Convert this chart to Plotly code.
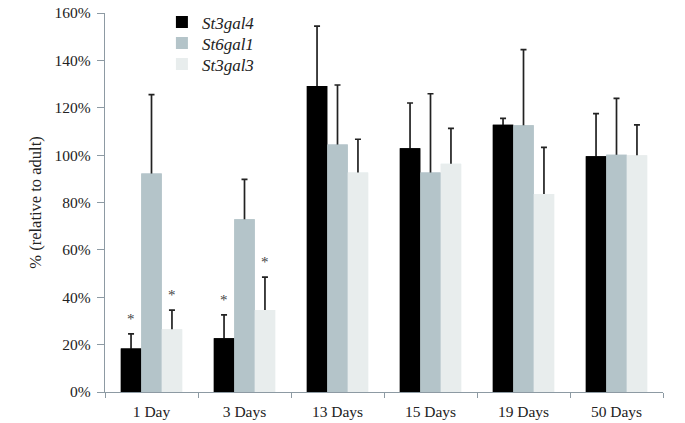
import plotly.graph_objects as go

categories = ["1 Day", "3 Days", "13 Days", "15 Days", "19 Days", "50 Days"]
series_names = ["St3gal4", "St6gal1", "St3gal3"]
st3gal4 = [18.4, 22.7, 129.2, 102.9, 112.8, 99.5]
st6gal1 = [92.2, 72.9, 104.5, 92.7, 112.6, 100.2]
st3gal3 = [26.5, 34.6, 92.7, 96.4, 83.6, 99.9]
st3gal4_err = [6.1, 9.9, 25.3, 19.1, 2.7, 18.0]
st6gal1_err = [33.3, 16.9, 25.1, 33.2, 31.9, 23.8]
st3gal3_err = [8.1, 13.9, 14.0, 14.9, 19.7, 12.9]
tick_vals = [0, 20, 40, 60, 80, 100, 120, 140, 160]
tick_text = ["0%", "20%", "40%", "60%", "80%", "100%", "120%", "140%", "160%"]
# significance markers: (series index, category index)
significant = [(0, 0), (2, 0), (0, 1), (2, 1)]

SERIF = "Liberation Serif, Times New Roman, serif"
colors = ["#000000", "#b4c4c9", "#e8eded"]
values = [st3gal4, st6gal1, st3gal3]
errors = [st3gal4_err, st6gal1_err, st3gal3_err]
legend_ids = ["legend", "legend2", "legend3"]

fig = go.Figure()
# bars carrying the error bars
for name, v, e, c, lg in zip(series_names, values, errors, colors, legend_ids):
    fig.add_trace(go.Bar(
        x=categories, y=v, name=name, offsetgroup=name, legend=lg,
        marker=dict(color=c, line=dict(width=0)),
        error_y=dict(type="data", array=e, symmetric=True,
                     color="#222222", thickness=1.7, width=3),
    ))
# identical bars drawn on top so the lower half of each error bar is hidden
for name, v, c in zip(series_names, values, colors):
    fig.add_trace(go.Bar(
        x=categories, y=v, name=name, offsetgroup=name, showlegend=False,
        marker=dict(color=c, line=dict(width=0)), hoverinfo="skip",
    ))

bar_px = 20.5
for s, ci in significant:
    fig.add_annotation(
        x=categories[ci], y=values[s][ci] + errors[s][ci], xref="x", yref="y",
        text="*", showarrow=False, xshift=(s - 1) * bar_px, yshift=15,
        font=dict(family=SERIF, size=15, color="#444444"),
    )

leg_common = dict(xanchor="left", yanchor="top", bgcolor="rgba(0,0,0,0)",
                  font=dict(family=SERIF, size=17, style="italic", color="#222222"),
                  itemwidth=30)
LEG_X = 0.102
LEG_Y = 1.0225
LEG_STEP = 0.0554
fig.update_layout(
    width=685, height=423,
    margin=dict(l=105, r=22, t=13, b=31, autoexpand=False),
    paper_bgcolor="white", plot_bgcolor="white",
    barmode="group", bargap=0.34, bargroupgap=0.0,
    font=dict(family=SERIF, color="#222222"),
    legend=dict(x=LEG_X, y=LEG_Y, **leg_common),
    legend2=dict(x=LEG_X, y=LEG_Y - LEG_STEP, **leg_common),
    legend3=dict(x=LEG_X, y=LEG_Y - 2 * LEG_STEP, **leg_common),
    xaxis=dict(showline=True, linecolor="#8d9aa3", linewidth=1.3,
               ticks="outside", tickson="boundaries", ticklen=5, tickcolor="#8d9aa3",
               ticklabelstandoff=5,
               tickfont=dict(size=15.5, color="#222222"), automargin=False),
    yaxis=dict(range=[0, 160], tickvals=tick_vals, ticktext=tick_text,
               showline=True, linecolor="#8d9aa3", linewidth=1.3,
               ticks="outside", ticklen=7, tickcolor="#8d9aa3", ticklabelstandoff=3,
               ticklabeloverflow="allow",
               showgrid=False, zeroline=False, automargin=False,
               tickfont=dict(size=15.5, color="#222222"),
               title=dict(text="% (relative to adult)", font=dict(size=16.5), standoff=8)),
)

fig.write_html("out.html", config={"displayModeBar": False},
               post_script="document.body.style.margin='0px';")
